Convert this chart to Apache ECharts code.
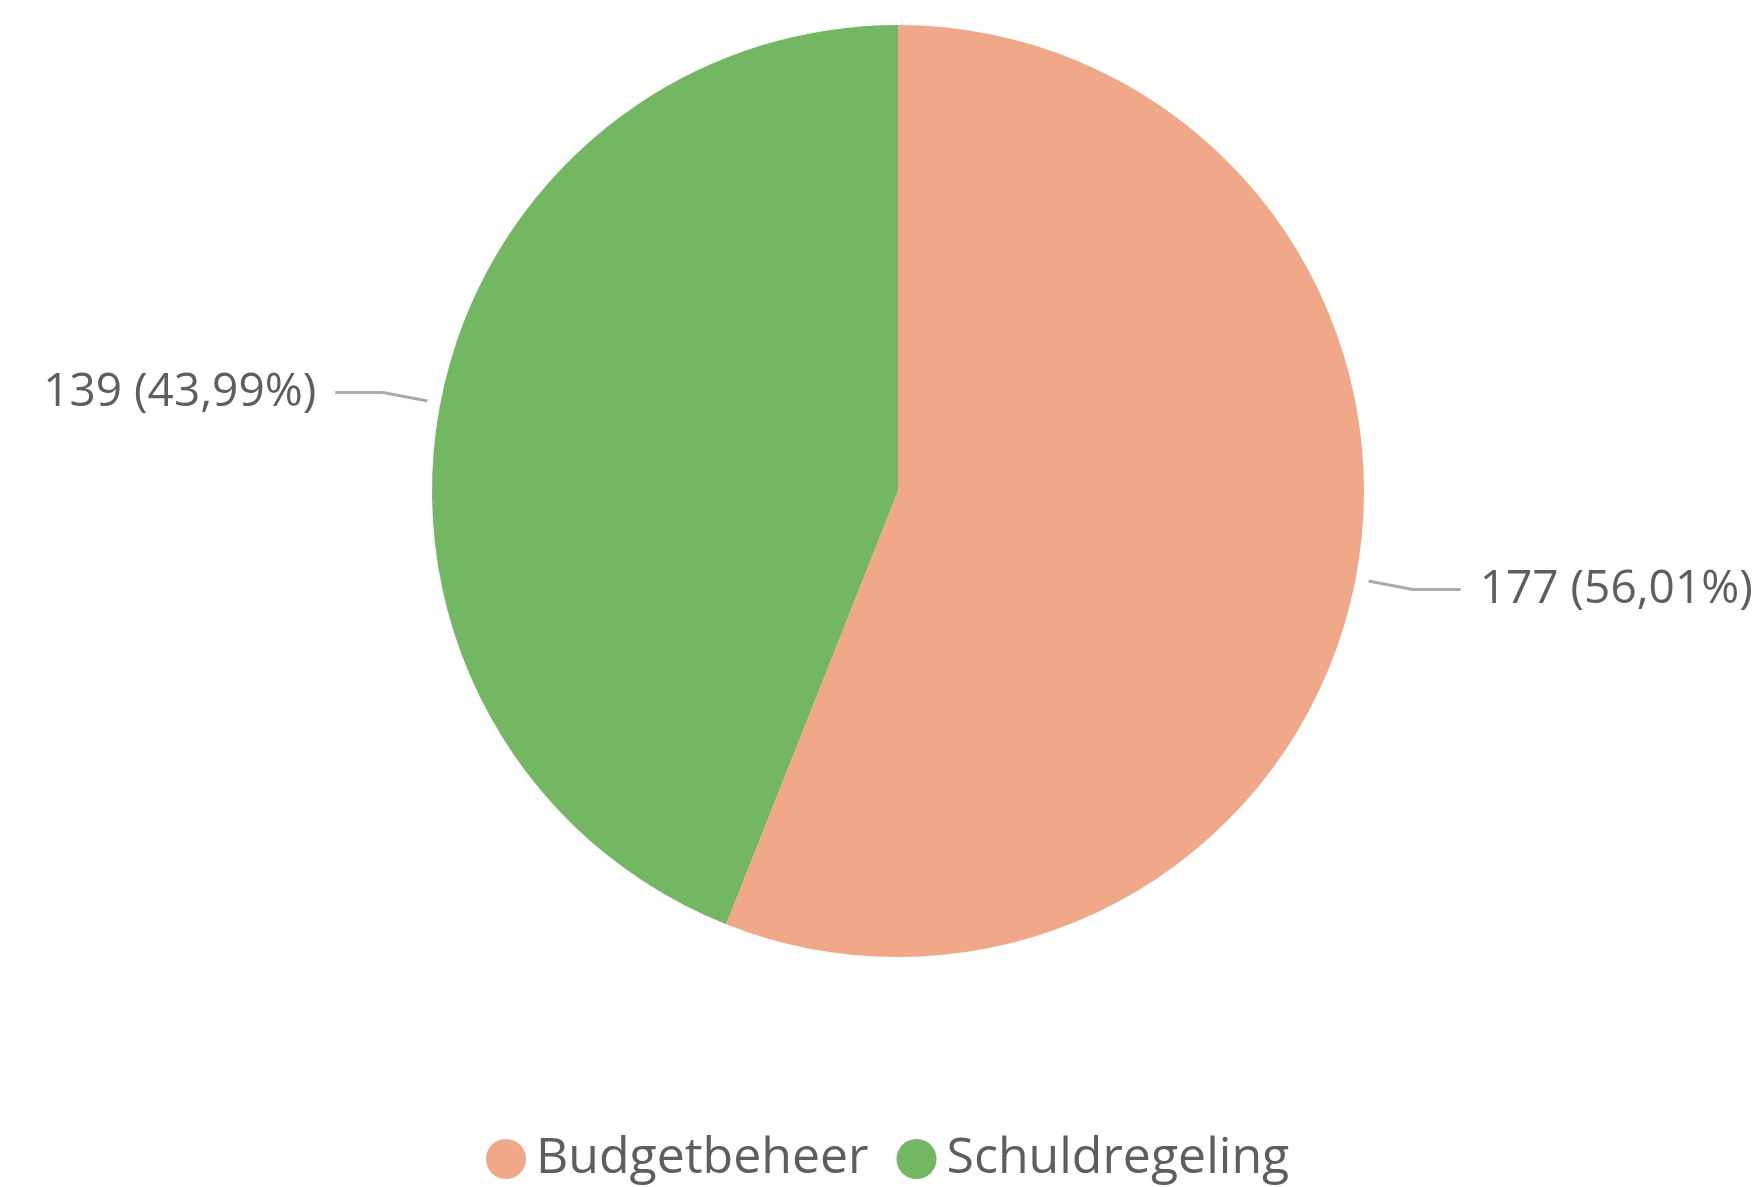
<!DOCTYPE html>
<html>
<head>
<meta charset="utf-8">
<script src="https://cdn.jsdelivr.net/npm/echarts@6/dist/echarts.min.js"></script>
<style>
html,body{margin:0;padding:0;background:#fff;}
#main{width:1752px;height:1187px;}
</style>
</head>
<body>
<div id="main"></div>
<script>
const categories = ['Budgetbeheer', 'Schuldregeling'];
const values = [177, 139];
const colors = ['#F0A888', '#74B762'];

const total = values.reduce((a, b) => a + b, 0);
const pieData = categories.map((c, i) => ({ name: c, value: values[i] }));
const chart = echarts.init(document.getElementById('main'));
chart.setOption({
  animation: false,
  color: colors,
  legend: {
    top: 1128,
    left: 481,
    icon: 'circle',
    itemWidth: 40,
    itemHeight: 40,
    itemGap: 28,
    textStyle: { fontFamily: 'Open Sans', fontSize: 50, lineHeight: 40, color: '#605E5C', padding: [12, 0, 0, 5] },
    data: categories
  },
  series: [{
    type: 'pie',
    center: [898, 491],
    radius: [0, 466],
    startAngle: 90,
    clockwise: true,
    data: pieData,
    label: { show: false },
    labelLine: { show: false },
    itemStyle: { borderWidth: 0 },
    emphasis: { disabled: true }
  }, {
    type: 'pie',
    center: [898, 491],
    radius: [0, 479],
    startAngle: 90,
    clockwise: true,
    silent: true,
    data: pieData,
    itemStyle: { color: 'rgba(0,0,0,0)', borderWidth: 0 },
    label: {
      show: true,
      fontFamily: 'Open Sans',
      fontSize: 46,
      color: '#605E5C',
      overflow: 'none',
      distanceToLabelLine: 19,
      formatter: p => p.value + ' (' + (p.value / total * 100).toFixed(2).replace('.', ',') + '%)'
    },
    labelLine: {
      show: true,
      length: 45,
      length2: 48,
      lineStyle: { color: '#ABABAB', width: 3 }
    },
    emphasis: { disabled: true }
  }]
});
</script>
</body>
</html>
